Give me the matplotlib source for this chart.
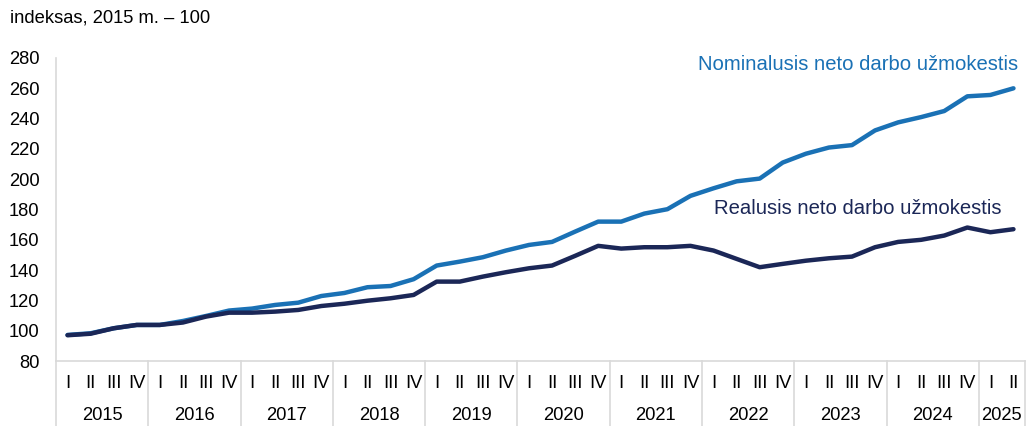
import matplotlib
matplotlib.use("Agg")
import matplotlib.pyplot as plt
import matplotlib.transforms as mtransforms

plt.rcParams['font.family'] = ['Liberation Sans', 'DejaVu Sans']

years = [str(y) for y in range(2015, 2026)]
quarters = ["I", "II", "III", "IV"]
quarter_labels = quarters * 10 + ["I", "II"]

nominal = [97.2, 98.3, 101.6, 103.8, 103.8, 106.4, 109.7, 113.3, 114.6, 117.0,
           118.5, 122.9, 124.9, 128.7, 129.5, 134.0, 143.0, 145.6, 148.5, 152.9,
           156.6, 158.6, 165.4, 172.0, 172.0, 177.3, 180.2, 189.0, 194.0, 198.6,
           200.4, 211.0, 216.8, 220.9, 222.5, 232.2, 237.5, 241.0, 245.0, 254.7,
           255.6, 260.0]
real = [97.0, 98.0, 101.6, 103.8, 103.8, 105.4, 109.3, 111.9, 111.9, 112.6,
        113.7, 116.3, 117.8, 119.8, 121.4, 123.6, 132.4, 132.4, 135.7, 138.6,
        141.2, 143.0, 149.4, 156.0, 154.2, 155.1, 155.1, 156.0, 152.9, 147.4,
        141.9, 144.1, 146.2, 147.8, 148.9, 155.1, 158.6, 160.0, 162.8, 168.1,
        165.0, 167.0]

nominal_color = "#1a71b5"
real_color = "#1b2757"
grid_color = "#d9d9d9"
FS = 13.2

W, H = 1031, 426
fig = plt.figure(figsize=(W/100, H/100), dpi=100)
ax = fig.add_axes([56/W, 1-361/H, (1025-56)/W, (361-58)/H])

x = list(range(len(nominal)))
ax.plot(x, nominal, color=nominal_color, lw=3.2, solid_capstyle='round', solid_joinstyle='round')
ax.plot(x, real, color=real_color, lw=3.2, solid_capstyle='round', solid_joinstyle='round')

ax.set_xlim(-0.5, len(nominal) - 0.5)
ax.set_ylim(80, 280)
ax.set_yticks(range(80, 281, 20))
ax.tick_params(axis='y', length=0, labelsize=FS, pad=12, colors='black')
ax.set_xticks([])

for s in ['top', 'right']:
    ax.spines[s].set_visible(False)
for s in ['left', 'bottom']:
    ax.spines[s].set_color(grid_color)
    ax.spines[s].set_linewidth(1.2)

trans = mtransforms.blended_transform_factory(ax.transData, fig.transFigure)
counts = [4] * 10 + [2]
bounds = [-0.5]
pos = -0.5
for c in counts:
    pos += c
    bounds.append(pos)
for b in bounds:
    ax.plot([b, b], [1 - 361/H, 0], transform=trans, color=grid_color, lw=1.2, clip_on=False)

for i, q in enumerate(quarter_labels):
    ax.text(i, 1 - 383/H, q, transform=trans, fontsize=FS, ha='center', va='center')

start = 0
for yr, c in zip(years, counts):
    mid = start + (c - 1) / 2
    ax.text(mid, 1 - 415/H, yr, transform=trans, fontsize=FS, ha='center', va='center')
    start += c

fig.text(10/W, 1 - 18/H, "indeksas, 2015 m. – 100", fontsize=FS, ha='left', va='center')

fig.text(1018/W, 1 - 65/H, "Nominalusis neto darbo užmokestis", fontsize=14.6,
         color=nominal_color, ha='right', va='center')
fig.text(1002/W, 1 - 209/H, "Realusis neto darbo užmokestis", fontsize=14.6,
         color=real_color, ha='right', va='center')

fig.savefig("out.png", dpi=100)
